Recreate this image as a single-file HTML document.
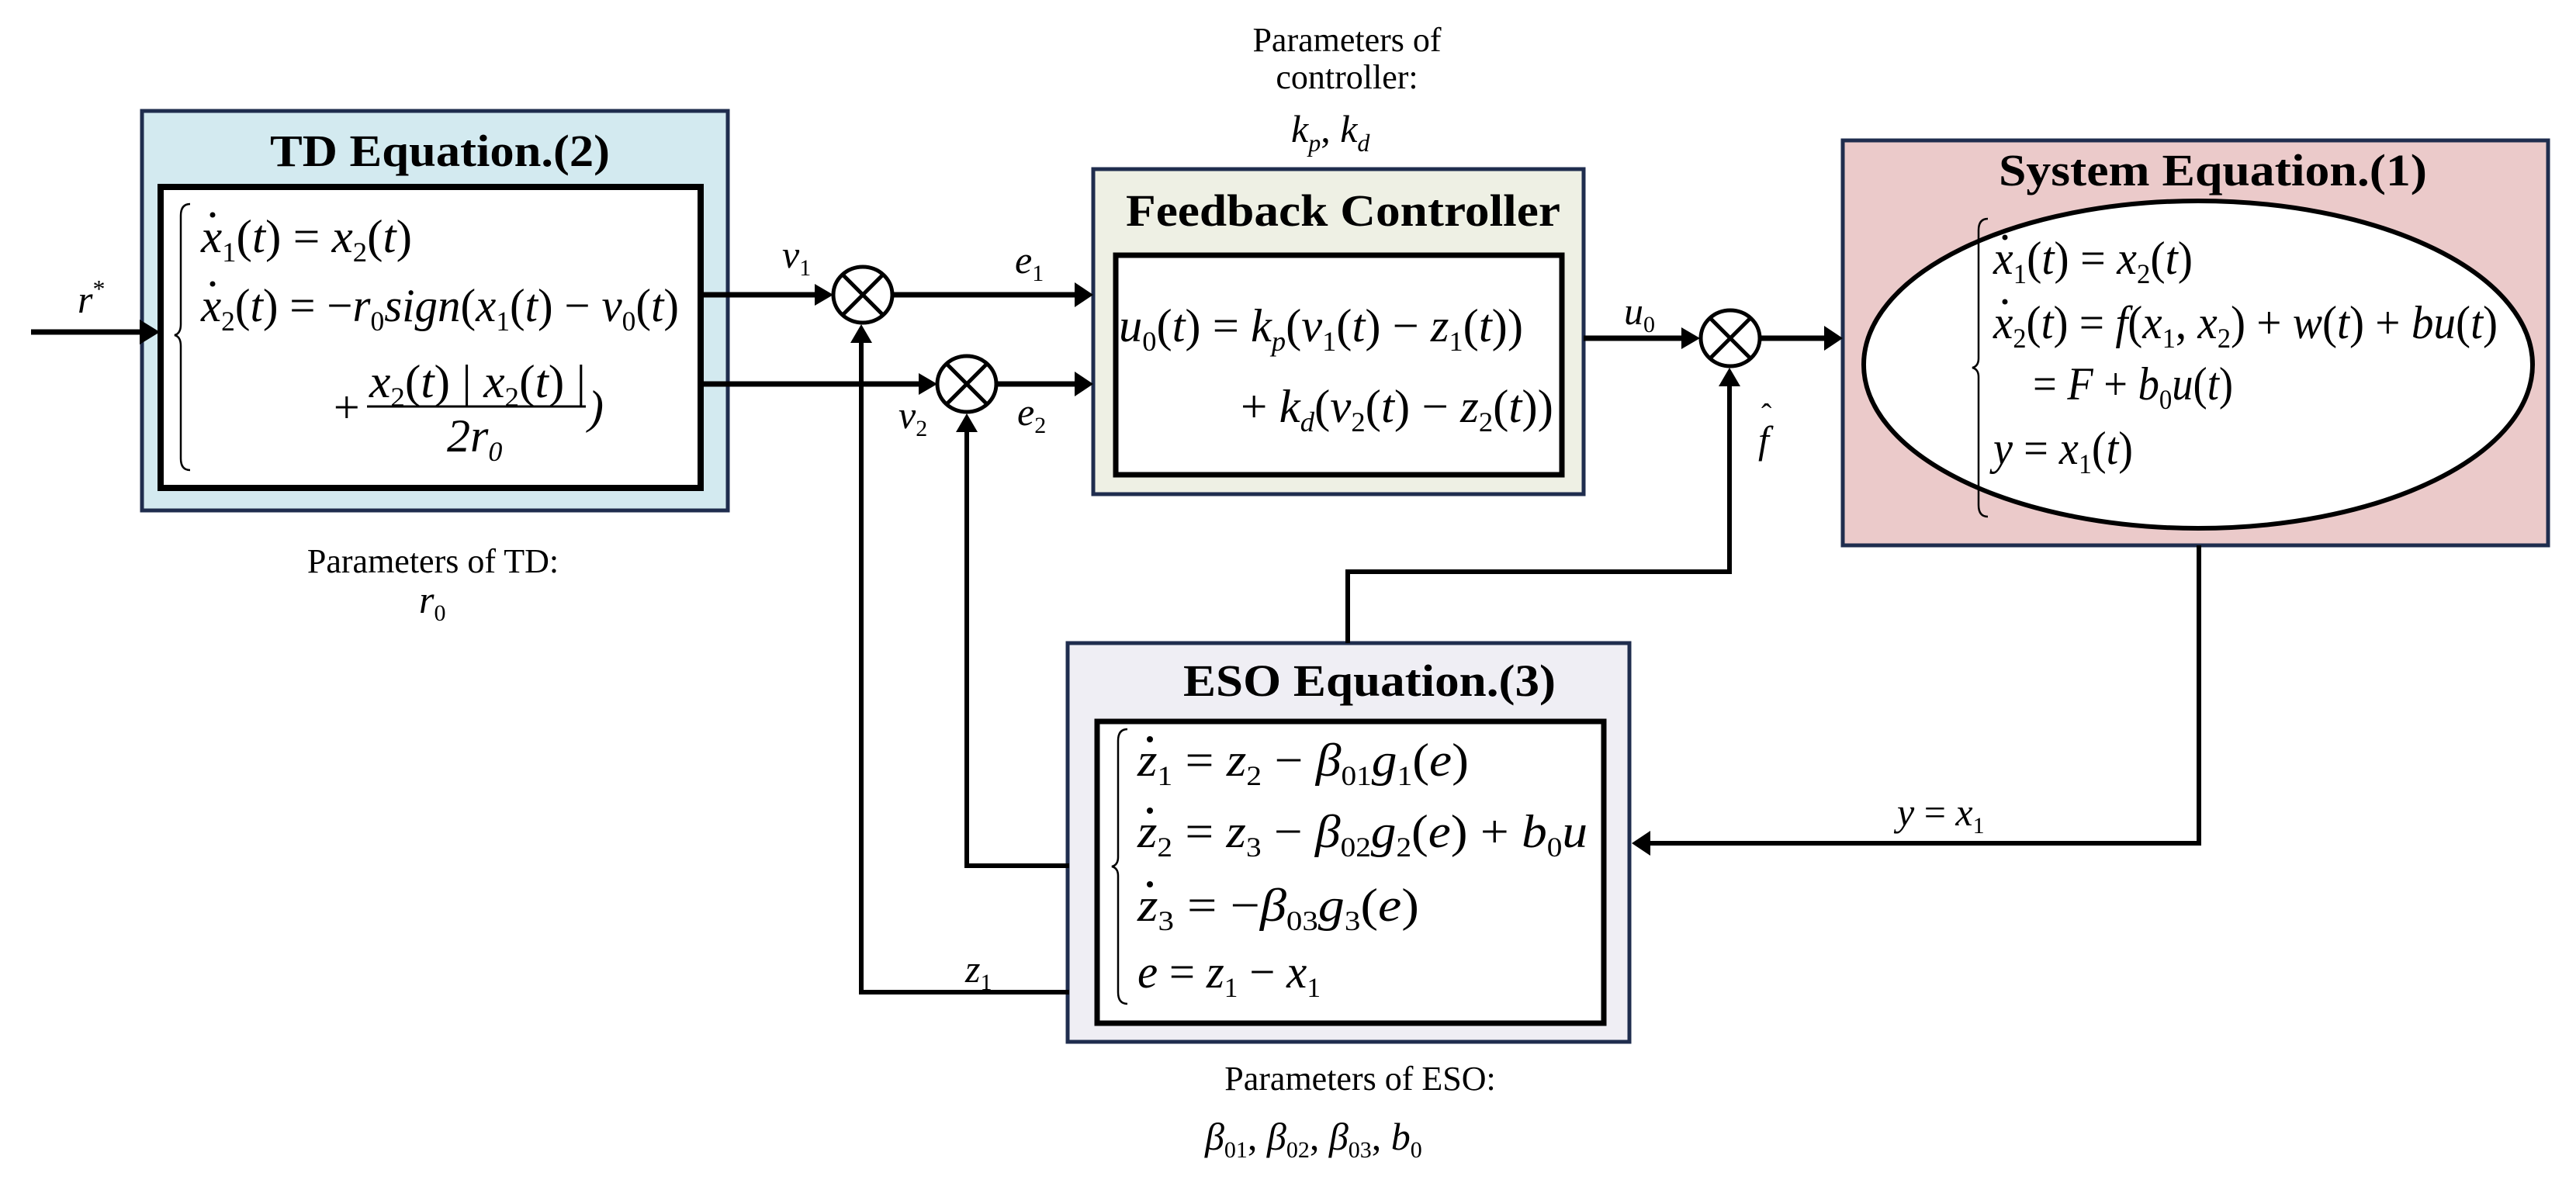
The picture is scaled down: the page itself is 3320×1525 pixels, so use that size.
<!DOCTYPE html>
<html><head><meta charset="utf-8"><style>
html,body{margin:0;padding:0;background:#fff}
svg{display:block}
text{font-family:"Liberation Serif",serif;fill:#000}
.t{font-weight:bold;font-size:58px}
.e{font-style:italic;font-size:60px}
.l{font-style:italic;font-size:50px}
.p{font-size:44px}
</style></head><body>
<svg width="3320" height="1525" viewBox="0 0 3320 1525" xmlns="http://www.w3.org/2000/svg">
<!-- boxes -->
<rect x="183" y="143" width="755" height="515" fill="#d3eaf0" stroke="#1f2d4e" stroke-width="5"/>
<rect x="207" y="241" width="696" height="388" fill="#fff" stroke="#000" stroke-width="8"/>
<rect x="1409" y="218" width="632" height="419" fill="#eef0e4" stroke="#1f2d4e" stroke-width="5"/>
<rect x="1438" y="329" width="575" height="283" fill="#fff" stroke="#000" stroke-width="7"/>
<rect x="2375" y="181" width="909" height="522" fill="#ebcaca" stroke="#1f2d4e" stroke-width="5"/>
<ellipse cx="2833" cy="470" rx="431" ry="211" fill="#fff" stroke="#000" stroke-width="6"/>
<rect x="1376" y="829" width="724" height="514" fill="#efeef4" stroke="#1f2d4e" stroke-width="5"/>
<rect x="1414" y="930" width="653" height="389" fill="#fff" stroke="#000" stroke-width="7"/>

<!-- titles -->
<text class="t" x="567" y="214" text-anchor="middle" textLength="438" lengthAdjust="spacingAndGlyphs">TD Equation.(2)</text>
<text class="t" x="1731" y="291" text-anchor="middle" textLength="560" lengthAdjust="spacingAndGlyphs">Feedback Controller</text>
<text class="t" x="2852" y="239" text-anchor="middle" textLength="552" lengthAdjust="spacingAndGlyphs">System Equation.(1)</text>
<text class="t" x="1765" y="897" text-anchor="middle" textLength="480" lengthAdjust="spacingAndGlyphs">ESO Equation.(3)</text>

<!-- connectors -->
<g stroke="#000" stroke-width="7" fill="none">
<line x1="40" y1="428" x2="186" y2="428"/>
<line x1="905" y1="380" x2="1055" y2="380"/>
<line x1="1150" y1="380" x2="1390" y2="380"/>
<line x1="905" y1="495" x2="1190" y2="495"/>
<line x1="1284" y1="495" x2="1390" y2="495"/>
<line x1="2041" y1="436" x2="2172" y2="436"/>
<line x1="2268" y1="436" x2="2356" y2="436"/>
</g>
<g stroke="#000" stroke-width="6" fill="none">
<polyline points="1110,436 1110,1279 1378,1279"/>
<polyline points="1246,551 1246,1116 1378,1116"/>
<polyline points="2229,492 2229,737 1737,737 1737,829"/>
<polyline points="2834,703 2834,1087 2120,1087"/>
</g>
<g fill="#000">
<polygon points="180,412 206,428 180,444"/>
<polygon points="1050,366 1074,380 1050,394"/>
<polygon points="1385,364 1409,380 1385,396"/>
<polygon points="1184,481 1208,495 1184,509"/>
<polygon points="1385,479 1409,495 1385,511"/>
<polygon points="2167,422 2191,436 2167,450"/>
<polygon points="2351,420 2375,436 2351,452"/>
<polygon points="1096,442 1110,418 1124,442"/>
<polygon points="1232,557 1246,533 1260,557"/>
<polygon points="2215,498 2229,474 2243,498"/>
<polygon points="2127,1071 2103,1087 2127,1103"/>
</g>
<!-- summing junctions -->
<g stroke="#000" stroke-width="5" fill="#fff">
<ellipse cx="1112" cy="380" rx="38" ry="36"/>
<ellipse cx="1246" cy="495" rx="38" ry="36"/>
<ellipse cx="2230" cy="436" rx="38" ry="36"/>
</g>
<g stroke="#000" stroke-width="5">
<line x1="1087" y1="355" x2="1137" y2="405"/><line x1="1137" y1="355" x2="1087" y2="405"/>
<line x1="1221" y1="470" x2="1271" y2="520"/><line x1="1271" y1="470" x2="1221" y2="520"/>
<line x1="2205" y1="411" x2="2255" y2="461"/><line x1="2255" y1="411" x2="2205" y2="461"/>
</g>

<!-- connector labels -->
<text class="l" x="100" y="403">r<tspan font-style="normal" font-size="32" dy="-20">*</tspan></text>
<text class="l" x="1008" y="345">v<tspan font-size="30" dy="10" font-style="normal">1</tspan></text>
<text class="l" x="1308" y="352">e<tspan font-size="30" dy="10" font-style="normal">1</tspan></text>
<text class="l" x="1158" y="552">v<tspan font-size="30" dy="10" font-style="normal">2</tspan></text>
<text class="l" x="1311" y="548">e<tspan font-size="30" dy="10" font-style="normal">2</tspan></text>
<text class="l" x="2093" y="418">u<tspan font-size="30" dy="10" font-style="normal">0</tspan></text>
<text class="l" x="2266" y="584">f</text>
<text x="2270" y="548" font-size="40">ˆ</text>
<text class="l" x="1244" y="1266">z<tspan font-size="30" dy="10" font-style="normal">1</tspan></text>
<text class="l" x="2445" y="1064">y <tspan font-style="normal">=</tspan> x<tspan font-size="30" dy="10" font-style="normal">1</tspan></text>

<!-- parameter labels -->
<text class="p" x="1736" y="66" text-anchor="middle">Parameters of</text>
<text class="p" x="1736" y="114" text-anchor="middle">controller:</text>
<text class="l" x="1664" y="183">k<tspan font-size="32" dy="12">p</tspan><tspan dy="-12" font-style="normal">, </tspan>k<tspan font-size="32" dy="12">d</tspan></text>
<text class="p" x="558" y="738" text-anchor="middle">Parameters of TD:</text>
<text class="l" x="540" y="790">r<tspan font-size="30" dy="10" font-style="normal">0</tspan></text>
<text class="p" x="1753" y="1405" text-anchor="middle">Parameters of ESO:</text>
<text class="l" x="1553" y="1482">β<tspan font-size="30" dy="10" font-style="normal">01</tspan><tspan dy="-10" font-style="normal">, </tspan>β<tspan font-size="30" dy="10" font-style="normal">02</tspan><tspan dy="-10" font-style="normal">, </tspan>β<tspan font-size="30" dy="10" font-style="normal">03</tspan><tspan dy="-10" font-style="normal">, </tspan>b<tspan font-size="30" dy="10" font-style="normal">0</tspan></text>

<!-- braces -->
<g fill="none" stroke="#000" stroke-width="2.5">
<path d="M245,263 q-12,0 -12,15 v140 q0,12 -8,14 q8,2 8,14 v145 q0,15 12,15"/>
<path d="M2562,282 q-12,0 -12,15 v165 q0,10 -8,12 q8,2 8,12 v165 q0,15 12,15"/>
<path d="M1453,940 q-12,0 -12,15 v150 q0,10 -8,12 q8,2 8,12 v150 q0,15 12,15"/>
</g>

<!-- TD equations -->
<text class="e" x="259" y="325" textLength="272" lengthAdjust="spacingAndGlyphs">x<tspan font-size="36" dy="12" font-style="normal">1</tspan><tspan dy="-12" font-style="normal">(</tspan>t<tspan font-style="normal">) = </tspan>x<tspan font-size="36" dy="12" font-style="normal">2</tspan><tspan dy="-12" font-style="normal">(</tspan>t<tspan font-style="normal">)</tspan></text>
<text class="e" x="259" y="414" textLength="616" lengthAdjust="spacingAndGlyphs">x<tspan font-size="36" dy="12" font-style="normal">2</tspan><tspan dy="-12" font-style="normal">(</tspan>t<tspan font-style="normal">) = −</tspan>r<tspan font-size="36" dy="12" font-style="normal">0</tspan><tspan dy="-12">sign</tspan><tspan font-style="normal">(</tspan>x<tspan font-size="36" dy="12" font-style="normal">1</tspan><tspan dy="-12" font-style="normal">(</tspan>t<tspan font-style="normal">) − </tspan>v<tspan font-size="36" dy="12" font-style="normal">0</tspan><tspan dy="-12" font-style="normal">(</tspan>t<tspan font-style="normal">)</tspan></text>
<text class="e" x="426" y="545" font-style="normal">+</text>
<text class="e" x="476" y="512" textLength="279" lengthAdjust="spacingAndGlyphs">x<tspan font-size="36" dy="12" font-style="normal">2</tspan><tspan dy="-12" font-style="normal">(</tspan>t<tspan font-style="normal">) | </tspan>x<tspan font-size="36" dy="12" font-style="normal">2</tspan><tspan dy="-12" font-style="normal">(</tspan>t<tspan font-style="normal">) |</tspan></text>
<line x1="473" y1="524" x2="755" y2="524" stroke="#000" stroke-width="3"/>
<text class="e" x="758" y="545" font-style="normal">)</text>
<text class="e" x="576" y="582" font-style="normal">2<tspan font-style="italic">r</tspan><tspan font-size="36" dy="12">0</tspan></text>
<g fill="#000"><circle cx="274" cy="277" r="3.5"/><circle cx="274" cy="366" r="3.5"/></g>

<!-- FC equations -->
<text class="e" x="1442" y="440" textLength="521" lengthAdjust="spacingAndGlyphs">u<tspan font-size="36" dy="12" font-style="normal">0</tspan><tspan dy="-12" font-style="normal">(</tspan>t<tspan font-style="normal">) = </tspan>k<tspan font-size="36" dy="12">p</tspan><tspan dy="-12" font-style="normal">(</tspan>v<tspan font-size="36" dy="12" font-style="normal">1</tspan><tspan dy="-12" font-style="normal">(</tspan>t<tspan font-style="normal">) − </tspan>z<tspan font-size="36" dy="12" font-style="normal">1</tspan><tspan dy="-12" font-style="normal">(</tspan>t<tspan font-style="normal">))</tspan></text>
<text class="e" x="1599" y="544" textLength="403" lengthAdjust="spacingAndGlyphs"><tspan font-style="normal">+ </tspan>k<tspan font-size="36" dy="12">d</tspan><tspan dy="-12" font-style="normal">(</tspan>v<tspan font-size="36" dy="12" font-style="normal">2</tspan><tspan dy="-12" font-style="normal">(</tspan>t<tspan font-style="normal">) − </tspan>z<tspan font-size="36" dy="12" font-style="normal">2</tspan><tspan dy="-12" font-style="normal">(</tspan>t<tspan font-style="normal">))</tspan></text>

<!-- System equations -->
<text class="e" x="2569" y="353" textLength="257" lengthAdjust="spacingAndGlyphs">x<tspan font-size="36" dy="12" font-style="normal">1</tspan><tspan dy="-12" font-style="normal">(</tspan>t<tspan font-style="normal">) = </tspan>x<tspan font-size="36" dy="12" font-style="normal">2</tspan><tspan dy="-12" font-style="normal">(</tspan>t<tspan font-style="normal">)</tspan></text>
<text class="e" x="2569" y="436" textLength="650" lengthAdjust="spacingAndGlyphs">x<tspan font-size="36" dy="12" font-style="normal">2</tspan><tspan dy="-12" font-style="normal">(</tspan>t<tspan font-style="normal">) = </tspan>f<tspan font-style="normal">(</tspan>x<tspan font-size="36" dy="12" font-style="normal">1</tspan><tspan dy="-12" font-style="normal">, </tspan>x<tspan font-size="36" dy="12" font-style="normal">2</tspan><tspan dy="-12" font-style="normal">) + </tspan>w<tspan font-style="normal">(</tspan>t<tspan font-style="normal">) + </tspan>bu<tspan font-style="normal">(</tspan>t<tspan font-style="normal">)</tspan></text>
<text class="e" x="2620" y="515" textLength="258" lengthAdjust="spacingAndGlyphs"><tspan font-style="normal">= </tspan>F<tspan font-style="normal"> + </tspan>b<tspan font-size="36" dy="12" font-style="normal">0</tspan><tspan dy="-12">u</tspan><tspan font-style="normal">(</tspan>t<tspan font-style="normal">)</tspan></text>
<text class="e" x="2569" y="598" textLength="180" lengthAdjust="spacingAndGlyphs">y<tspan font-style="normal"> = </tspan>x<tspan font-size="36" dy="12" font-style="normal">1</tspan><tspan dy="-12" font-style="normal">(</tspan>t<tspan font-style="normal">)</tspan></text>
<g fill="#000"><circle cx="2584" cy="306" r="3.5"/><circle cx="2584" cy="389" r="3.5"/></g>

<!-- ESO equations -->
<text class="e" x="1466" y="1000" textLength="427" lengthAdjust="spacingAndGlyphs">z<tspan font-size="36" dy="12" font-style="normal">1</tspan><tspan dy="-12" font-style="normal"> = </tspan>z<tspan font-size="36" dy="12" font-style="normal">2</tspan><tspan dy="-12" font-style="normal"> − </tspan>β<tspan font-size="36" dy="12" font-style="normal">01</tspan><tspan dy="-12">g</tspan><tspan font-size="36" dy="12" font-style="normal">1</tspan><tspan dy="-12" font-style="normal">(</tspan>e<tspan font-style="normal">)</tspan></text>
<text class="e" x="1466" y="1092" textLength="580" lengthAdjust="spacingAndGlyphs">z<tspan font-size="36" dy="12" font-style="normal">2</tspan><tspan dy="-12" font-style="normal"> = </tspan>z<tspan font-size="36" dy="12" font-style="normal">3</tspan><tspan dy="-12" font-style="normal"> − </tspan>β<tspan font-size="36" dy="12" font-style="normal">02</tspan><tspan dy="-12">g</tspan><tspan font-size="36" dy="12" font-style="normal">2</tspan><tspan dy="-12" font-style="normal">(</tspan>e<tspan font-style="normal">) + </tspan>b<tspan font-size="36" dy="12" font-style="normal">0</tspan><tspan dy="-12">u</tspan></text>
<text class="e" x="1466" y="1187" textLength="363" lengthAdjust="spacingAndGlyphs">z<tspan font-size="36" dy="12" font-style="normal">3</tspan><tspan dy="-12" font-style="normal"> = −</tspan>β<tspan font-size="36" dy="12" font-style="normal">03</tspan><tspan dy="-12">g</tspan><tspan font-size="36" dy="12" font-style="normal">3</tspan><tspan dy="-12" font-style="normal">(</tspan>e<tspan font-style="normal">)</tspan></text>
<text class="e" x="1466" y="1273" textLength="236" lengthAdjust="spacingAndGlyphs">e<tspan font-style="normal"> = </tspan>z<tspan font-size="36" dy="12" font-style="normal">1</tspan><tspan dy="-12" font-style="normal"> − </tspan>x<tspan font-size="36" dy="12" font-style="normal">1</tspan></text>
<g fill="#000"><circle cx="1482" cy="953" r="4"/><circle cx="1482" cy="1045" r="4"/><circle cx="1482" cy="1140" r="4"/></g>
</svg>
</body></html>
